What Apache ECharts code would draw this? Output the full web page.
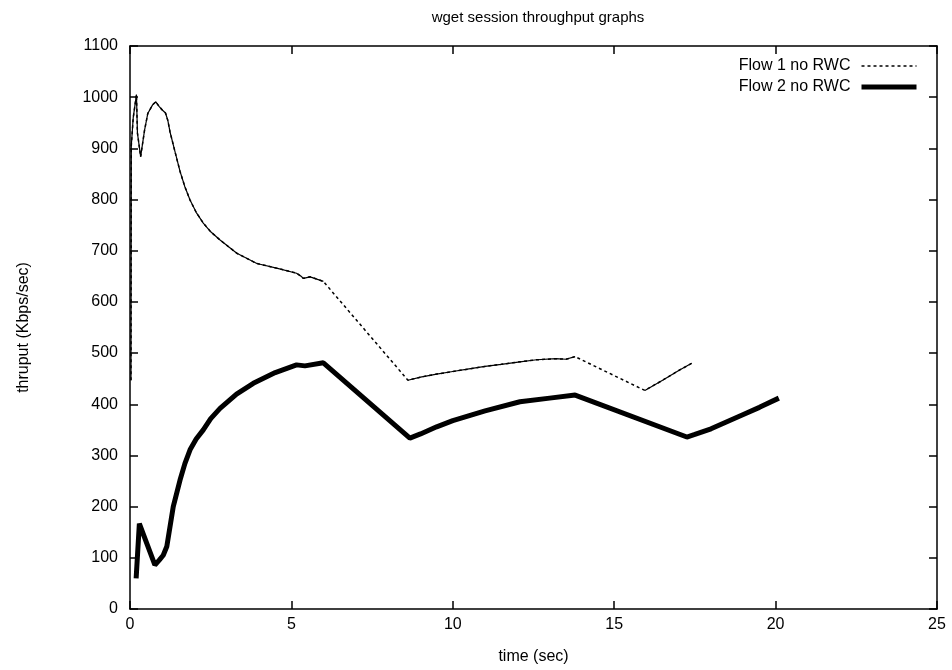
<!DOCTYPE html>
<html>
<head>
<meta charset="utf-8">
<title>wget session throughput graphs</title>
<script src="https://cdn.jsdelivr.net/npm/echarts@6/dist/echarts.min.js"></script>
<style>
    html, body { margin: 0; padding: 0; background: #fff; }
    #chart { width: 952px; height: 670px; }
</style>
</head>
<body>
<div id="chart"></div>
<script>
// Flow 1 (no RWC)
const flow1Time = [0.03, 0.04, 0.10, 0.20, 0.23, 0.33, 0.45, 0.55, 0.70, 0.80, 0.90, 1.00, 1.10,
    1.17, 1.24, 1.40, 1.55, 1.70, 1.86, 2.05, 2.27, 2.50, 2.79, 3.31, 3.93, 4.54, 5.16, 5.30, 5.37, 5.58, 5.99,
    8.61, 9.0, 9.5, 10.0, 10.5, 11.0, 11.5, 12.08, 12.6, 13.2, 13.5, 13.79,
    15.95, 16.5, 17.0, 17.4];
const flow1Value = [447, 905, 960, 1005, 930, 884, 935, 968, 985, 991, 982, 975, 969,
    955, 932, 892, 855, 825, 799, 775, 754, 737, 721, 695, 675, 666, 656, 650, 646, 649, 640,
    447, 453, 459, 464, 469, 474, 478, 483, 487, 489, 488, 493,
    427, 447, 466, 480];

// Flow 2 (no RWC)
const flow2Time = [0.19, 0.29, 0.77, 0.90, 1.03, 1.14, 1.34, 1.55, 1.70, 1.86, 2.05, 2.27, 2.50, 2.79, 3.3, 3.82,
    4.5, 5.16, 5.42, 5.99, 8.67, 9.0, 9.5, 10.0, 11.0, 12.08, 13.0, 13.79,
    17.25, 17.5, 18.0, 19.0, 19.5, 20.1];
const flow2Value = [60, 167, 86, 95, 105, 122, 200, 252, 284, 311, 332, 350, 372, 392, 420, 441,
    462, 477, 475, 481, 334, 342, 356, 368, 387, 405, 412, 418,
    336, 341, 352, 380, 394, 412];

const seriesNames = ['Flow 1 no RWC', 'Flow 2 no RWC'];

const flow1Data = flow1Time.map((t, i) => [t, flow1Value[i]]);
const flow2Data = flow2Time.map((t, i) => [t, flow2Value[i]]);

// gnuplot dots look solid where samples are dense; keep only close neighbours
const denseGap = 1.0;
const flow1Dense = [];
flow1Data.forEach((p, i) => {
    if (i > 0 && p[0] - flow1Data[i - 1][0] > denseGap) {
        flow1Dense.push([null, null]);
    }
    flow1Dense.push(p);
});

const font = 'Liberation Sans, Arial, sans-serif';
const chart = echarts.init(document.getElementById('chart'));

const axisLine = { show: true, onZero: false, lineStyle: { color: '#000', width: 1.5 } };
const axisTick = { show: true, inside: true, length: 8, lineStyle: { color: '#000', width: 1.5 } };
const labelStyle = { fontFamily: font, fontSize: 16, color: '#000' };

chart.setOption({
    animation: false,
    backgroundColor: '#fff',
    title: {
        text: 'wget session throughput graphs',
        left: 533,
        top: 5,
        textAlign: 'center',
        textStyle: { fontFamily: font, fontSize: 15, fontWeight: 'normal', color: '#000' }
    },
    legend: {
        data: [
            { name: seriesNames[0], lineStyle: { width: 1.5, type: [3, 3] } },
            { name: seriesNames[1], lineStyle: { width: 5 } }
        ],
        orient: 'vertical',
        right: 28,
        top: 53,
        align: 'right',
        itemWidth: 55,
        itemHeight: 14,
        itemGap: 5,
        itemStyle: { opacity: 0 },
        textStyle: Object.assign({ padding: [0, 6, 0, 0] }, labelStyle)
    },
    grid: {
        left: 130,
        right: 15,
        top: 46,
        bottom: 61
    },
    xAxis: [
        {
            type: 'value',
            min: 0,
            max: 25,
            interval: 5,
            name: 'time (sec)',
            nameLocation: 'middle',
            nameGap: 40,
            nameTextStyle: labelStyle,
            axisLine: axisLine,
            axisTick: axisTick,
            axisLabel: Object.assign({ margin: 8, formatter: v => String(v) }, labelStyle),
            splitLine: { show: false }
        },
        {
            type: 'value',
            position: 'top',
            min: 0,
            max: 25,
            interval: 5,
            axisLine: axisLine,
            axisTick: axisTick,
            axisLabel: { show: false },
            splitLine: { show: false }
        }
    ],
    yAxis: [
        {
            type: 'value',
            min: 0,
            max: 1100,
            interval: 100,
            name: 'thruput (Kbps/sec)',
            nameLocation: 'middle',
            nameGap: 98,
            nameTextStyle: labelStyle,
            axisLine: axisLine,
            axisTick: axisTick,
            axisLabel: Object.assign({ margin: 12, formatter: v => String(v) }, labelStyle),
            splitLine: { show: false }
        },
        {
            type: 'value',
            position: 'right',
            min: 0,
            max: 1100,
            interval: 100,
            axisLine: axisLine,
            axisTick: axisTick,
            axisLabel: { show: false },
            splitLine: { show: false }
        }
    ],
    series: [
        {
            name: seriesNames[0],
            type: 'line',
            data: flow1Data,
            symbol: 'none',
            color: '#000',
            lineStyle: { color: '#000', width: 1.5, type: [3, 3] }
        },
        {
            name: 'Flow 1 dense',
            type: 'line',
            data: flow1Dense,
            symbol: 'none',
            connectNulls: false,
            color: '#000',
            lineStyle: { color: '#000', width: 1.2 }
        },
        {
            name: seriesNames[1],
            type: 'line',
            data: flow2Data,
            symbol: 'none',
            color: '#000',
            lineStyle: { color: '#000', width: 5 }
        }
    ]
});

window.addEventListener('resize', () => {
    chart && chart.resize();
});
</script>
</body>
</html>
